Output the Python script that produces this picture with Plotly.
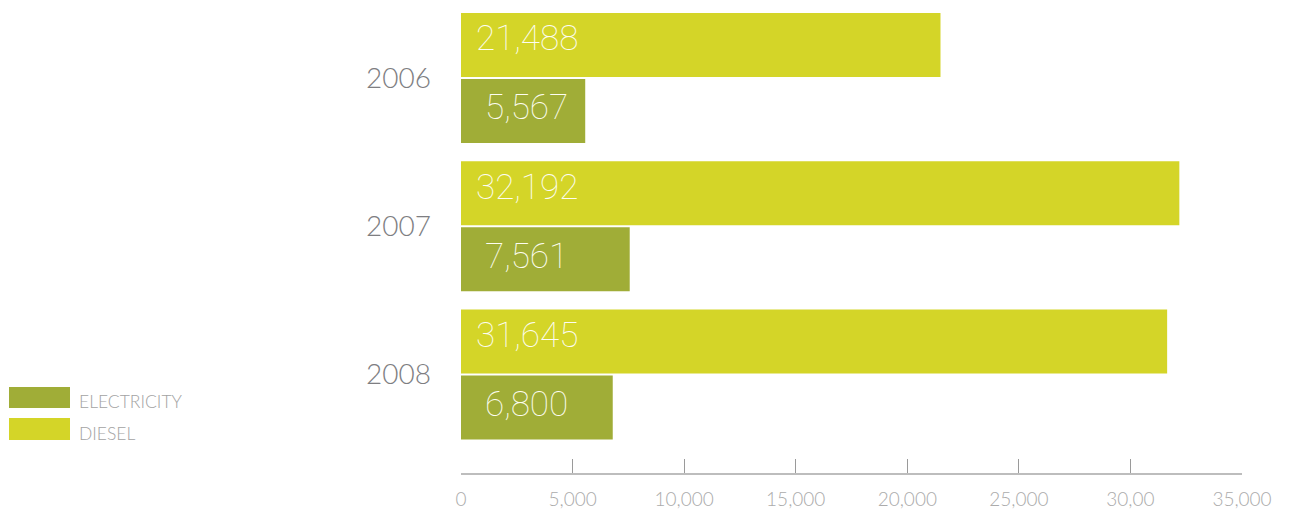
import plotly.graph_objects as go

# Energy use by year
years = ["2006", "2007", "2008"]
diesel = [21488, 32192, 31645]
electricity = [5567, 7561, 6800]

tick_values = [0, 5000, 10000, 15000, 20000, 25000, 30000, 35000]
tick_labels = ["0", "5,000", "10,000", "15,000", "20,000", "25,000", "30,00", "35,000"]

series_names = ["ELECTRICITY", "DIESEL"]

DIESEL_COLOR = "#D4D528"
ELEC_COLOR = "#A0AD37"
FONT = "Lato, Roboto, sans-serif"
VALUE_FONT = "Roboto, Lato, sans-serif"

W, H = 1293, 512
M_L, M_R, M_T, M_B = 461, 51, 0, 39
PLOT_W = W - M_L - M_R
PLOT_H = H - M_T - M_B


def paper_x(px):
    return (px - M_L) / PLOT_W


def paper_y(py):
    return 1 - (py - M_T) / PLOT_H


fig = go.Figure()
fig.add_trace(go.Bar(
    name="DIESEL", y=years, x=diesel, orientation="h",
    marker=dict(color=DIESEL_COLOR, line=dict(width=0)),
    showlegend=False, hoverinfo="skip",
))
fig.add_trace(go.Bar(
    name="ELECTRICITY", y=years, x=electricity, orientation="h",
    marker=dict(color=ELEC_COLOR, line=dict(width=0)),
    showlegend=False, hoverinfo="skip",
))

# value labels near the start of each bar (y given as category index)
annotations = []
label_font = dict(family=VALUE_FONT, size=35, color="#FDFDF2", weight=100)
for i, (d, e) in enumerate(zip(diesel, electricity)):
    annotations.append(dict(
        x=2950, y=i, xref="x", yref="y", text=f"{d:,}", showarrow=False,
        xanchor="center", yanchor="middle", yshift=39, font=label_font,
    ))
    annotations.append(dict(
        x=2950, y=i, xref="x", yref="y", text=f"{e:,}", showarrow=False,
        xanchor="center", yanchor="middle", yshift=-30, font=label_font,
    ))

# legend swatches and labels
shapes = []
legend_rows = [
    (series_names[0], ELEC_COLOR, 387, 408, 401),
    (series_names[1], DIESEL_COLOR, 418, 440, 433),
]
for name, color, top, bottom, text_y in legend_rows:
    shapes.append(dict(
        type="rect", xref="paper", yref="paper",
        x0=paper_x(9), x1=paper_x(70), y0=paper_y(bottom), y1=paper_y(top),
        fillcolor=color, line=dict(width=0), layer="above",
    ))
    annotations.append(dict(
        x=paper_x(77), y=paper_y(text_y), xref="paper", yref="paper",
        text=name, showarrow=False, xanchor="left", yanchor="middle",
        font=dict(family=FONT, size=17.5, color="#A3A3A3", weight=300),
    ))

fig.update_layout(
    width=W, height=H,
    margin=dict(l=M_L, r=M_R, t=M_T, b=M_B, pad=0),
    paper_bgcolor="white", plot_bgcolor="white",
    barmode="group", bargap=0.11, bargroupgap=0.03,
    annotations=annotations, shapes=shapes,
    showlegend=False,
)
fig.update_xaxes(
    range=[0, 35000], tickvals=tick_values, ticktext=tick_labels,
    showgrid=False, zeroline=False,
    showline=True, linecolor="#BDBDBD", linewidth=2,
    ticks="inside", ticklen=14, tickwidth=1, tickcolor="#9A9A9A",
    tickfont=dict(family=FONT, size=19, color="#ABABAB", weight=300),
    ticklabelstandoff=8, fixedrange=True,
)
fig.update_yaxes(
    type="category", range=[2.664, -0.526],
    showgrid=False, zeroline=False, showline=False, ticks="",
    tickfont=dict(family=FONT, size=28, color="#7E7E82", weight=300),
    ticklabelstandoff=29, fixedrange=True,
)

fig.write_html("out.html", config={"displayModeBar": False})
